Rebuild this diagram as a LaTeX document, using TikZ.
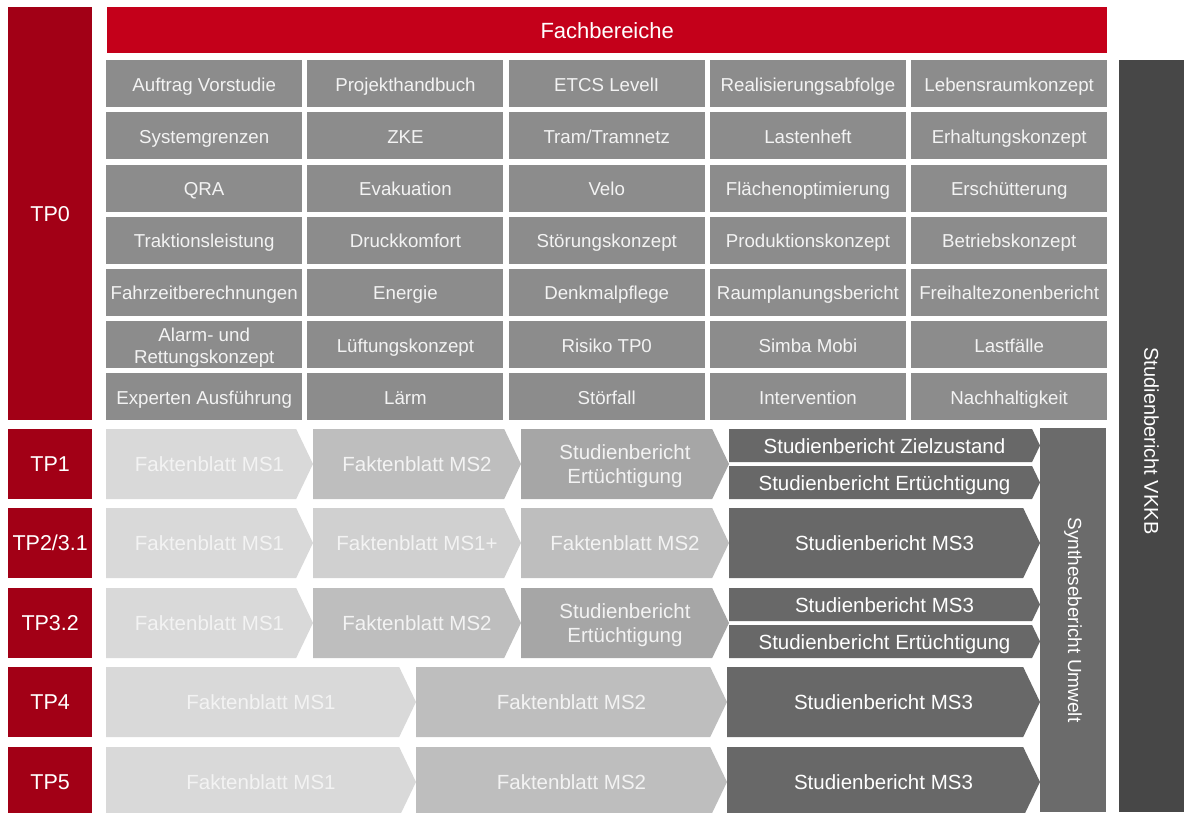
\documentclass[tikz,border=0pt]{standalone}
\usepackage{fontspec}
\setmainfont{Liberation Sans}

\definecolor{tpred}{RGB}{162,0,22}
\definecolor{fbred}{RGB}{196,0,26}
\definecolor{cellgray}{RGB}{140,140,140}
\definecolor{stepA}{RGB}{217,217,217}
\definecolor{stepAA}{RGB}{208,208,208}
\definecolor{stepB}{RGB}{190,190,190}
\definecolor{stepC}{RGB}{166,166,166}
\definecolor{stepD}{RGB}{104,104,104}
\definecolor{synthgray}{RGB}{107,107,107}
\definecolor{vkkbgray}{RGB}{71,71,71}
\definecolor{paletext}{RGB}{243,243,243}

% pointed step: name, left, right, top, bottom, fill, text
\newcommand{\chevron}[7]{%
  \fill[#6] (#2,#4) -- ({#3-0.24*(#5-#4)},#4) -- (#3,{(#4+#5)/2})
    -- ({#3-0.24*(#5-#4)},#5) -- (#2,#5) -- cycle;
  \node[steptext] (#1) at ({(#2+#3)/2},{(#4+#5)/2}) {\vphantom{lg}#7};
}

\begin{document}
\begin{tikzpicture}[x=1pt,y=-1pt,
    tpbox/.style={fill=tpred,text=white,inner sep=0pt,anchor=north west,
      minimum width=84,font=\fontsize{21.5}{25}\selectfont},
    cell/.style={fill=cellgray,text=paletext,inner sep=0pt,anchor=north west,
      minimum width=196,minimum height=47,align=center,
      font=\fontsize{18.7}{22}\selectfont},
    celltext/.style={text=paletext,inner sep=0pt,align=center,yshift=-2.6pt,
      font=\fontsize{18.7}{22}\selectfont},
    steptext/.style={text=paletext,inner sep=0pt,align=center,yshift=-2.3pt,
      font=\fontsize{20.5}{24.5}\selectfont},
    sidebar/.style={text=white,inner sep=0pt,rotate=-90,
      font=\fontsize{20}{24}\selectfont}]
    \useasboundingbox (0,0) rectangle (1184,812);

    % left column
    \node[tpbox,minimum height=413] (tp0) at (8,7) {TP0};
    \node[tpbox,minimum height=70] (tp1) at (8,429) {TP1};
    \node[tpbox,minimum height=70] (tp2) at (8,508) {TP2/3.1};
    \node[tpbox,minimum height=70] (tp3) at (8,588) {TP3.2};
    \node[tpbox,minimum height=70] (tp4) at (8,667) {TP4};
    \node[tpbox,minimum height=70] (tp5) at (8,747) {TP5};

    % Fachbereiche
    \node[fill=fbred,text=white,inner sep=0pt,anchor=north west,
      minimum width=1000,minimum height=46,font=\fontsize{22}{26}\selectfont]
      (fach) at (107,7) {Fachbereiche};
    \foreach \txt [count=\i from 0] in {Auftrag Vorstudie, Projekthandbuch, ETCS LevelI, Realisierungsabfolge, Lebensraumkonzept,
        Systemgrenzen, ZKE, Tram/Tramnetz, Lastenheft, Erhaltungskonzept,
        QRA, Evakuation, Velo, Flächenoptimierung, Erschütterung,
        Traktionsleistung, Druckkomfort, Störungskonzept, Produktionskonzept, Betriebskonzept,
        Fahrzeitberechnungen, Energie, Denkmalpflege, Raumplanungsbericht, Freihaltezonenbericht,
        {Alarm- und\\Rettungskonzept}, Lüftungskonzept, Risiko TP0, Simba Mobi, Lastfälle,
        Experten Ausführung, Lärm, Störfall, Intervention, Nachhaltigkeit}
    {
        \pgfmathtruncatemacro{\row}{div(\i,5)}
        \pgfmathtruncatemacro{\col}{mod(\i,5)}
        \node[cell] (fb-\row-\col) at ({106+201.25*\col},{60+52.2*\row}) {};
        \node[celltext] (fbt-\row-\col) at (fb-\row-\col.center) {\vphantom{lg}\txt};
    }

    % TP1
    \chevron{tp1-a}{106}{313}{429}{499}{stepA}{Faktenblatt MS1}
    \chevron{tp1-b}{313}{521}{429}{499}{stepB}{Faktenblatt MS2}
    \chevron{tp1-c}{521}{729}{429}{499}{stepC}{Studienbericht\\Ertüchtigung}
    \chevron{tp1-d}{729}{1040}{429}{462}{stepD}{\color{white}Studienbericht Zielzustand}
    \chevron{tp1-e}{729}{1040}{466}{499}{stepD}{\color{white}Studienbericht Ertüchtigung}

    % TP2/3.1
    \chevron{tp2-a}{106}{313}{508}{578}{stepA}{Faktenblatt MS1}
    \chevron{tp2-b}{313}{521}{508}{578}{stepAA}{Faktenblatt MS1+}
    \chevron{tp2-c}{521}{729}{508}{578}{stepB}{Faktenblatt MS2}
    \chevron{tp2-d}{729}{1040}{508}{578}{stepD}{\color{white}Studienbericht MS3}

    % TP3.2
    \chevron{tp3-a}{106}{313}{588}{658}{stepA}{Faktenblatt MS1}
    \chevron{tp3-b}{313}{521}{588}{658}{stepB}{Faktenblatt MS2}
    \chevron{tp3-c}{521}{729}{588}{658}{stepC}{Studienbericht\\Ertüchtigung}
    \chevron{tp3-d}{729}{1040}{588}{621}{stepD}{\color{white}Studienbericht MS3}
    \chevron{tp3-e}{729}{1040}{625}{658}{stepD}{\color{white}Studienbericht Ertüchtigung}

    % TP4
    \chevron{tp4-a}{106}{416}{667}{737}{stepA}{Faktenblatt MS1}
    \chevron{tp4-b}{416}{727}{667}{737}{stepB}{Faktenblatt MS2}
    \chevron{tp4-c}{727}{1040}{667}{737}{stepD}{\color{white}Studienbericht MS3}

    % TP5
    \chevron{tp5-a}{106}{416}{747}{817}{stepA}{Faktenblatt MS1}
    \chevron{tp5-b}{416}{727}{747}{817}{stepB}{Faktenblatt MS2}
    \chevron{tp5-c}{727}{1040}{747}{817}{stepD}{\color{white}Studienbericht MS3}

    % right bars
    \node[sidebar,fill=synthgray,minimum width=384,minimum height=66,
      font=\fontsize{19}{23}\selectfont] (synth) at (1073,620) {Synthesebericht Umwelt};
    \fill[vkkbgray] (1119,60) rectangle (1184,812);
    \node[sidebar] (vkkb) at (1151.5,441) {Studienbericht VKKB};
\end{tikzpicture}
\end{document}
